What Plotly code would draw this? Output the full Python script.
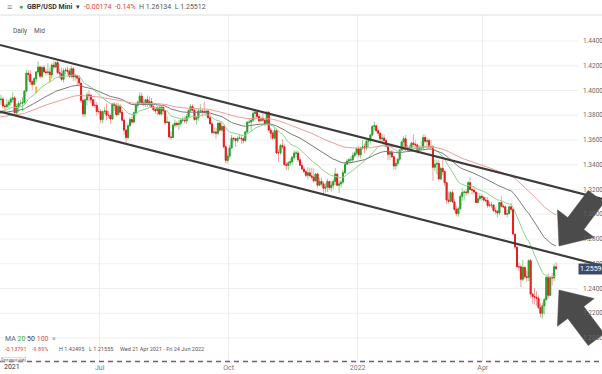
import numpy as np
import pandas as pd
import plotly.graph_objects as go

# ---------------- data ----------------
# closes before the visible window (Dec 2020 - 20 Apr 2021), used to warm up the moving averages
hist_close = [
    1.3395, 1.3365, 1.3450, 1.3440, 1.3385, 1.3365, 1.3365, 1.3285, 1.3230, 1.3320, 1.3460, 1.3520,
    1.3585, 1.3515, 1.3455, 1.3380, 1.3490, 1.3550, 1.3550, 1.3450, 1.3450, 1.3665, 1.3670,
    1.3670, 1.3570, 1.3610, 1.3610, 1.3575, 1.3565, 1.3515, 1.3640, 1.3660, 1.3680, 1.3585, 1.3595,
    1.3630, 1.3665, 1.3730, 1.3685, 1.3675, 1.3735, 1.3690, 1.3735, 1.3705,
    1.3675, 1.3640, 1.3670, 1.3655, 1.3730, 1.3750, 1.3815, 1.3830, 1.3820, 1.3850, 1.3890, 1.3925,
    1.3875, 1.3960, 1.4010, 1.4060, 1.4130, 1.4150, 1.3925, 1.3925,
    1.3935, 1.3955, 1.3950, 1.3895, 1.3840, 1.3835, 1.3885, 1.3925, 1.3965, 1.3925, 1.3900, 1.3880,
    1.3965, 1.3935, 1.3865, 1.3865, 1.3740, 1.3665, 1.3755, 1.3795, 1.3765, 1.3750, 1.3785,
    1.3825, 1.3835, 1.3885, 1.3850, 1.3735, 1.3720, 1.3700, 1.3735, 1.3745, 1.3785, 1.3800, 1.3835,
    1.3945, 1.3925,
]
hist_start = "2020-12-01"

# visible daily candles 21 Apr 2021 - 24 May 2022 (open = previous close)
close = [
    1.3930, 1.3875, 1.3870, 1.3885, 1.3905, 1.3930, 1.3940, 1.3820,
    1.3870, 1.3895, 1.3895, 1.3905, 1.3995, 1.4140, 1.4130, 1.4070, 1.4050, 1.4095, 1.4150, 1.4190, 1.4115, 1.4185, 1.4150, 1.4145, 1.4150, 1.4125, 1.4205, 1.4190, 1.4225,
    1.4145, 1.4135, 1.4090, 1.4160, 1.4165, 1.4155, 1.4115, 1.4175, 1.4110, 1.4120, 1.4100, 1.4060, 1.3920, 1.3810, 1.3925, 1.3965, 1.3960, 1.3925, 1.3880, 1.3880, 1.3830, 1.3830,
    1.3765, 1.3830, 1.3835, 1.3800, 1.3800, 1.3770, 1.3890, 1.3880, 1.3805, 1.3870, 1.3825, 1.3760, 1.3680, 1.3620, 1.3715, 1.3765, 1.3745, 1.3820, 1.3880, 1.3905, 1.3955, 1.3900,
    1.3890, 1.3925, 1.3890, 1.3910, 1.3870, 1.3845, 1.3835, 1.3860, 1.3810, 1.3865, 1.3835, 1.3740, 1.3745, 1.3625, 1.3620, 1.3720, 1.3735, 1.3725, 1.3735, 1.3760, 1.3760, 1.3755,
    1.3790, 1.3840, 1.3870, 1.3840, 1.3765, 1.3780, 1.3835, 1.3835, 1.3830, 1.3820, 1.3835, 1.3780, 1.3730, 1.3660, 1.3665, 1.3655, 1.3735, 1.3680, 1.3710, 1.3545, 1.3435, 1.3470,
    1.3535, 1.3615, 1.3610, 1.3595, 1.3615, 1.3615, 1.3610, 1.3595, 1.3665, 1.3745, 1.3745, 1.3760, 1.3815, 1.3825, 1.3790, 1.3755, 1.3775, 1.3760, 1.3735, 1.3825, 1.3680,
    1.3655, 1.3615, 1.3675, 1.3495, 1.3495, 1.3555, 1.3545, 1.3400, 1.3395, 1.3415, 1.3425, 1.3460, 1.3495, 1.3495, 1.3440, 1.3395, 1.3365, 1.3345, 1.3315, 1.3335, 1.3310, 1.3300,
    1.3270, 1.3325, 1.3235, 1.3265, 1.3245, 1.3210, 1.3220, 1.3265, 1.3215, 1.3235, 1.3265, 1.3325, 1.3235, 1.3245, 1.3260, 1.3335, 1.3405, 1.3430, 1.3440, 1.3440, 1.3475, 1.3495, 1.3530,
    1.3480, 1.3535, 1.3545, 1.3535, 1.3590, 1.3595, 1.3640, 1.3710, 1.3715, 1.3675, 1.3655, 1.3610, 1.3615, 1.3595, 1.3550, 1.3485, 1.3500, 1.3465, 1.3390, 1.3410, 1.3445,
    1.3520, 1.3585, 1.3610, 1.3535, 1.3530, 1.3540, 1.3575, 1.3565, 1.3560, 1.3525, 1.3535, 1.3535, 1.3620, 1.3590, 1.3595, 1.3545, 1.3545, 1.3380, 1.3405, 1.3410,
    1.3285, 1.3370, 1.3345, 1.3255, 1.3115, 1.3105, 1.3175, 1.3100, 1.3040, 1.3005, 1.3045, 1.3145, 1.3175, 1.3180, 1.3175, 1.3255, 1.3200, 1.3195, 1.3180, 1.3095, 1.3125, 1.3145, 1.3135,
    1.3115, 1.3110, 1.3070, 1.3075, 1.3075, 1.3030, 1.3025, 1.3010, 1.3095, 1.3065, 1.3060, 1.3000, 1.3005, 1.3060, 1.3040, 1.2840, 1.2735, 1.2575, 1.2575, 1.2475, 1.2570,
    1.2495, 1.2490, 1.2625, 1.2355, 1.2335, 1.2330, 1.2320, 1.2245, 1.2200, 1.2260, 1.2310, 1.2490, 1.2345, 1.2490, 1.2485, 1.2575, 1.2560,
]
high = [
    1.3965, 1.3950, 1.3895, 1.3935, 1.3925, 1.3945, 1.3985, 1.3955,
    1.3895, 1.3915, 1.3925, 1.3945, 1.4005, 1.4165, 1.4165, 1.4165, 1.4085, 1.4110, 1.4155, 1.4235, 1.4200, 1.4200, 1.4205, 1.4170, 1.4220, 1.4185, 1.4220, 1.4240, 1.4235,
    1.4250, 1.4180, 1.4185, 1.4180, 1.4185, 1.4195, 1.4180, 1.4200, 1.4190, 1.4135, 1.4130, 1.4125, 1.4060, 1.3935, 1.3935, 1.3985, 1.4000, 1.3975, 1.3935, 1.3930, 1.3905, 1.3860,
    1.3850, 1.3840, 1.3865, 1.3895, 1.3835, 1.3805, 1.3900, 1.3905, 1.3900, 1.3900, 1.3890, 1.3840, 1.3775, 1.3685, 1.3735, 1.3785, 1.3790, 1.3830, 1.3895, 1.3920, 1.3985, 1.3985,
    1.3935, 1.3935, 1.3960, 1.3950, 1.3940, 1.3880, 1.3870, 1.3875, 1.3880, 1.3875, 1.3870, 1.3840, 1.3790, 1.3750, 1.3670, 1.3735, 1.3765, 1.3750, 1.3760, 1.3770, 1.3790, 1.3790,
    1.3810, 1.3845, 1.3890, 1.3890, 1.3850, 1.3790, 1.3850, 1.3890, 1.3855, 1.3910, 1.3840, 1.3840, 1.3810, 1.3745, 1.3700, 1.3700, 1.3750, 1.3750, 1.3745, 1.3715, 1.3560, 1.3490,
    1.3560, 1.3640, 1.3625, 1.3610, 1.3630, 1.3650, 1.3640, 1.3625, 1.3675, 1.3750, 1.3775, 1.3775, 1.3835, 1.3835, 1.3830, 1.3810, 1.3790, 1.3815, 1.3775, 1.3835, 1.3830,
    1.3700, 1.3675, 1.3700, 1.3690, 1.3525, 1.3570, 1.3605, 1.3565, 1.3420, 1.3430, 1.3450, 1.3470, 1.3515, 1.3515, 1.3515, 1.3460, 1.3420, 1.3385, 1.3360, 1.3380, 1.3375, 1.3375,
    1.3370, 1.3335, 1.3340, 1.3290, 1.3295, 1.3265, 1.3250, 1.3285, 1.3265, 1.3265, 1.3285, 1.3375, 1.3325, 1.3270, 1.3275, 1.3360, 1.3420, 1.3445, 1.3455, 1.3465, 1.3500, 1.3510, 1.3545,
    1.3550, 1.3545, 1.3600, 1.3570, 1.3600, 1.3615, 1.3650, 1.3720, 1.3750, 1.3720, 1.3690, 1.3660, 1.3650, 1.3645, 1.3605, 1.3560, 1.3515, 1.3520, 1.3470, 1.3420, 1.3450,
    1.3525, 1.3590, 1.3630, 1.3640, 1.3560, 1.3560, 1.3585, 1.3645, 1.3595, 1.3570, 1.3555, 1.3590, 1.3645, 1.3645, 1.3620, 1.3610, 1.3600, 1.3560, 1.3440, 1.3445,
    1.3440, 1.3385, 1.3440, 1.3355, 1.3260, 1.3185, 1.3190, 1.3195, 1.3125, 1.3070, 1.3060, 1.3160, 1.3210, 1.3195, 1.3200, 1.3265, 1.3300, 1.3215, 1.3220, 1.3180, 1.3175, 1.3170, 1.3160,
    1.3150, 1.3140, 1.3140, 1.3100, 1.3100, 1.3075, 1.3055, 1.3035, 1.3100, 1.3150, 1.3080, 1.3070, 1.3035, 1.3070, 1.3090, 1.3050, 1.2840, 1.2740, 1.2610, 1.2590, 1.2630,
    1.2580, 1.2545, 1.2635, 1.2640, 1.2365, 1.2405, 1.2380, 1.2345, 1.2285, 1.2285, 1.2325, 1.2500, 1.2525, 1.2500, 1.2525, 1.2600, 1.2613,
]
low = [
    1.3885, 1.3855, 1.3820, 1.3855, 1.3860, 1.3880, 1.3905, 1.3805,
    1.3800, 1.3825, 1.3875, 1.3835, 1.3890, 1.3985, 1.4080, 1.4045, 1.4005, 1.4040, 1.4065, 1.4130, 1.4095, 1.4100, 1.4135, 1.4120, 1.4125, 1.4110, 1.4095, 1.4170, 1.4180,
    1.4135, 1.4100, 1.4075, 1.4065, 1.4130, 1.4130, 1.4100, 1.4100, 1.4075, 1.4080, 1.4040, 1.4035, 1.3900, 1.3790, 1.3785, 1.3880, 1.3915, 1.3895, 1.3865, 1.3860, 1.3795, 1.3810,
    1.3735, 1.3735, 1.3810, 1.3760, 1.3775, 1.3730, 1.3765, 1.3835, 1.3790, 1.3805, 1.3810, 1.3750, 1.3640, 1.3570, 1.3605, 1.3710, 1.3725, 1.3735, 1.3790, 1.3855, 1.3890, 1.3880,
    1.3875, 1.3865, 1.3870, 1.3870, 1.3865, 1.3830, 1.3810, 1.3800, 1.3800, 1.3795, 1.3805, 1.3720, 1.3735, 1.3620, 1.3600, 1.3615, 1.3700, 1.3705, 1.3680, 1.3710, 1.3745, 1.3735,
    1.3730, 1.3775, 1.3825, 1.3835, 1.3755, 1.3725, 1.3755, 1.3815, 1.3790, 1.3815, 1.3785, 1.3765, 1.3725, 1.3650, 1.3645, 1.3610, 1.3640, 1.3665, 1.3670, 1.3530, 1.3410, 1.3410,
    1.3450, 1.3530, 1.3580, 1.3545, 1.3580, 1.3605, 1.3570, 1.3570, 1.3585, 1.3655, 1.3730, 1.3675, 1.3745, 1.3765, 1.3775, 1.3740, 1.3745, 1.3755, 1.3710, 1.3735, 1.3670,
    1.3605, 1.3605, 1.3605, 1.3490, 1.3425, 1.3480, 1.3525, 1.3395, 1.3355, 1.3355, 1.3390, 1.3395, 1.3440, 1.3460, 1.3420, 1.3390, 1.3360, 1.3330, 1.3300, 1.3280, 1.3305, 1.3280,
    1.3255, 1.3265, 1.3210, 1.3230, 1.3225, 1.3160, 1.3175, 1.3180, 1.3195, 1.3185, 1.3200, 1.3235, 1.3225, 1.3170, 1.3215, 1.3245, 1.3325, 1.3395, 1.3400, 1.3410, 1.3420, 1.3455, 1.3480,
    1.3460, 1.3450, 1.3520, 1.3490, 1.3515, 1.3540, 1.3570, 1.3630, 1.3680, 1.3660, 1.3630, 1.3590, 1.3575, 1.3585, 1.3540, 1.3435, 1.3440, 1.3455, 1.3360, 1.3360, 1.3390,
    1.3430, 1.3505, 1.3520, 1.3510, 1.3505, 1.3515, 1.3525, 1.3545, 1.3525, 1.3490, 1.3515, 1.3520, 1.3575, 1.3575, 1.3530, 1.3530, 1.3530, 1.3270, 1.3350, 1.3325,
    1.3275, 1.3275, 1.3315, 1.3230, 1.3085, 1.3085, 1.3110, 1.3090, 1.3025, 1.2985, 1.2980, 1.3035, 1.3110, 1.3110, 1.3150, 1.3160, 1.3190, 1.3160, 1.3165, 1.3090, 1.3090, 1.3110, 1.3110,
    1.3100, 1.3095, 1.3050, 1.3055, 1.3050, 1.3015, 1.3000, 1.2975, 1.2990, 1.3055, 1.3050, 1.2995, 1.2975, 1.3000, 1.3020, 1.2830, 1.2715, 1.2570, 1.2540, 1.2410, 1.2460,
    1.2480, 1.2455, 1.2460, 1.2325, 1.2275, 1.2270, 1.2260, 1.2235, 1.2165, 1.2155, 1.2190, 1.2305, 1.2320, 1.2340, 1.2425, 1.2460, 1.2551,
]

ma_periods = [20, 50, 100]
ma_colors = ["#8fd18f", "#7a7a7a", "#f29a9a"]

# two highlighted (orange) marks near the 20 MA in May 2021
mark_dates = ["2021-05-17", "2021-05-26"]
mark_lo = [1.3980, 1.4072]
mark_hi = [1.4030, 1.4125]

# channel trend lines: (start date, price) -> (end date, price)
chan_x = ["2021-04-21 00:00", "2022-06-24 23:59"]
chan_upper = [1.4368, 1.3124]
chan_lower = [1.3829, 1.2585]

x_range = ["2021-04-21 00:00", "2022-06-24 23:59"]
y_range = [1.18061, 1.46101]

x_tickvals = ["2021-07-01", "2021-10-01", "2022-01-03", "2022-04-01"]
x_ticktext = ["Jul", "Oct", "2022", "Apr"]
y_ticks = [1.20, 1.22, 1.24, 1.26, 1.28, 1.30, 1.32, 1.34, 1.36, 1.38, 1.40, 1.42, 1.44]
last_price = 1.25596

# ---------------- build ----------------
n_hist = len(hist_close)
all_close = np.array(hist_close + close)
dates = pd.bdate_range(hist_start, periods=len(all_close)) + pd.Timedelta(hours=12)
vis_dates = dates[n_hist:]

c = np.array(close)
o = np.concatenate([[hist_close[-1]], c[:-1]])
h = np.maximum.reduce([np.array(high), o, c])
l = np.minimum.reduce([np.array(low), o, c])

W, Hh = 602, 374
TOP, BOT = 15, 362


def P(px, py):
    return px / W, (BOT - py) / (BOT - TOP)


fig = go.Figure()

# wicks (lighter)
fig.add_trace(go.Candlestick(
    x=vis_dates, open=o, high=h, low=l, close=c,
    increasing=dict(line=dict(color="#8ed28e", width=1), fillcolor="#8ed28e"),
    decreasing=dict(line=dict(color="#f4a0a0", width=1), fillcolor="#f4a0a0"),
    whiskerwidth=0, showlegend=False, hoverinfo="skip"))
# bodies
fig.add_trace(go.Candlestick(
    x=vis_dates, open=o, high=np.maximum(o, c), low=np.minimum(o, c), close=c,
    increasing=dict(line=dict(color="#2e9e2e", width=1), fillcolor="#2e9e2e"),
    decreasing=dict(line=dict(color="#e41e1e", width=1), fillcolor="#e41e1e"),
    whiskerwidth=0, showlegend=False, hoverinfo="skip"))

# moving averages
s = pd.Series(all_close)
for per, col in zip(ma_periods, ma_colors):
    ma = s.ewm(span=per, adjust=True).mean().values
    fig.add_trace(go.Scatter(x=dates[n_hist - 1:], y=ma[n_hist - 1:], mode="lines",
                             line=dict(color=col, width=1), showlegend=False, hoverinfo="skip"))

# orange marks
fig.add_trace(go.Candlestick(
    x=pd.to_datetime(mark_dates) + pd.Timedelta(hours=12), open=mark_lo, high=mark_hi, low=mark_lo, close=mark_hi,
    increasing=dict(line=dict(color="#f5b642", width=1), fillcolor="#f5b642"),
    whiskerwidth=0, showlegend=False, hoverinfo="skip"))

# channel
for yy in (chan_upper, chan_lower):
    fig.add_trace(go.Scatter(x=chan_x, y=yy, mode="lines",
                             line=dict(color="#3c3c3c", width=2.2), showlegend=False, hoverinfo="skip"))

shapes = []
# horizontal grid lines (stop before the price labels)
for v in y_ticks:
    shapes.append(dict(type="line", xref="paper", yref="y", x0=0, x1=578 / W, y0=v, y1=v,
                       line=dict(color="#efefef", width=1), layer="below"))
# header separator
shapes.append(dict(type="line", xref="paper", yref="paper", x0=0, x1=1,
                   y0=P(0, 15)[1], y1=P(0, 15)[1], line=dict(color="#dedede", width=1)))
# bottom dashed line
shapes.append(dict(type="line", xref="paper", yref="paper", x0=0, x1=1,
                   y0=P(0, 361.5)[1], y1=P(0, 361.5)[1], line=dict(color="#7b587b", width=1.5, dash="5px,4px")))


def arrow(tip, u, L=62, hl=28, hw=46, sw=20):
    tx, ty = tip
    ux, uy = u
    nx, ny = -uy, ux
    bx, by = tx - ux * hl, ty - uy * hl
    cx, cy = tx - ux * L, ty - uy * L
    pts = [(cx + nx * sw / 2, cy + ny * sw / 2), (bx + nx * sw / 2, by + ny * sw / 2),
           (bx + nx * hw / 2, by + ny * hw / 2), (tx, ty),
           (bx - nx * hw / 2, by - ny * hw / 2), (bx - nx * sw / 2, by - ny * sw / 2),
           (cx - nx * sw / 2, cy - ny * sw / 2)]
    pp = [P(a, b) for a, b in pts]
    path = "M " + " L ".join(f"{a:.5f},{b:.5f}" for a, b in pp) + " Z"
    return dict(type="path", xref="paper", yref="paper", path=path,
                fillcolor="#4b4b4b", line=dict(color="#4b4b4b", width=0.5))


shapes.append(arrow((559, 246), (-0.6, 0.8)))
shapes.append(arrow((559, 290), (-0.6, -0.8)))

ann = []
FONT = "Roboto, Arial, sans-serif"
for v in y_ticks:
    ann.append(dict(x=581 / W, xref="paper", y=v, yref="y", text=f"{v:.5f}", showarrow=False,
                    xanchor="left", yanchor="middle", font=dict(size=6.5, color="#666", family=FONT)))
ann.append(dict(x=578 / W, xref="paper", y=last_price, yref="y", text=f"{last_price:.5f}", showarrow=False,
                xanchor="left", yanchor="middle", bgcolor="#3c4a6a", borderpad=1,
                font=dict(size=7, color="white", family=FONT)))


def txt(px, py, text, size=7, color="#444", anchor="left", **kw):
    x, y = P(px, py)
    ann.append(dict(x=x, y=y, xref="paper", yref="paper", text=text, showarrow=False,
                    xanchor=anchor, yanchor="middle", font=dict(size=size, color=color, family=FONT), **kw))


txt(5, 7, "≡", size=9, color="#888")
txt(17, 7, "●", size=7, color="#2db52d")
txt(25, 7, "<b>GBP/USD Mini</b>  ▾", size=7, color="#333")
txt(82, 7, "<span style='color:#e0443a'>-0.00174  -0.14%</span>  H 1.26134  L 1.25512", size=7, color="#555")
txt(11, 31, "Daily", size=6.5, color="#555")
txt(32, 31, "Mid", size=6.5, color="#555")
txt(3, 339, "MA <span style='color:#3aaa3a'>20</span> <span style='color:#444'>50</span> "
    "<span style='color:#e45050'>100</span>  <span style='color:#999'>×</span>", size=7, color="#666")
txt(3, 349, "-0.13791", size=5.5, color="#e0443a")
txt(30, 349, "-9.89%", size=5.5, color="#e0443a")
txt(57, 349, "H 1.42495", size=5.5, color="#555")
txt(87, 349, "L 1.21555", size=5.5, color="#555")
txt(118, 349, "Wed 21 Apr 2021 - Fri 24 Jun 2022", size=5.5, color="#555")
txt(1, 359.5, "Time period slider", size=3, color="#666", bordercolor="#bbb", borderwidth=0.5, borderpad=0)
txt(2, 367, "2021", size=7, color="#333")

fig.update_layout(
    width=W, height=Hh,
    margin=dict(l=0, r=0, t=TOP, b=Hh - BOT),
    paper_bgcolor="white", plot_bgcolor="white",
    showlegend=False,
    shapes=shapes, annotations=ann,
    font=dict(family=FONT),
    xaxis=dict(type="date", range=x_range, rangebreaks=[dict(bounds=["sat", "mon"])],
               tickvals=x_tickvals, ticktext=x_ticktext, showgrid=True, gridcolor="#ececec",
               gridwidth=1, ticks="", tickfont=dict(size=7, color="#777"), zeroline=False,
               showline=False, rangeslider=dict(visible=False), fixedrange=True,
               automargin=False, ticklabelstandoff=0),
    yaxis=dict(range=y_range, showgrid=False, showticklabels=False, zeroline=False, fixedrange=True,
               automargin=False),
)

fig.write_html("out.html", config={"displayModeBar": False},
               post_script="document.body.style.margin='0';document.body.style.overflow='hidden';")
